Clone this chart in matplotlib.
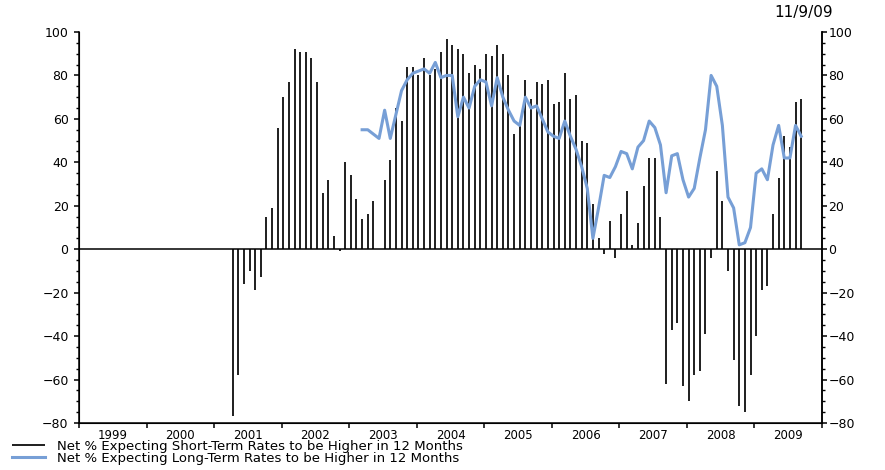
import numpy as np
import matplotlib.pyplot as plt
from matplotlib.ticker import MultipleLocator, FixedLocator, NullFormatter, FixedFormatter

# Données mensuelles, avril 2001 -> septembre 2009
start_year = 2001
start_month = 4

short_term = [-77, -58, -16, -10, -19, -13, 15, 19, 56, 70, 77, 92, 91, 91, 88, 77,
              26, 32, 6, -1, 40, 34, 23, 14, 16, 22, 0, 32, 41, 65, 59, 84, 84, 80,
              88, 80, 83, 91, 97, 94, 92, 90, 81, 85, 83, 90, 89, 94, 90, 80, 53, 57,
              78, 69, 77, 76, 78, 67, 68, 81, 69, 71, 50, 49, 21, 5, -2, 13, -4, 16,
              27, 2, 12, 29, 42, 42, 15, -62, -37, -34, -63, -70, -58, -56, -39, -4,
              36, 22, -10, -51, -72, -75, -58, -40, -19, -17, 16, 33, 52, 47, 68, 69]

# la série longue commence en février 2003 (23 mois après le début)
long_offset = 23
long_term = [55, 55, 53, 51, 64, 51, 62, 73, 78, 81, 82, 83, 81, 86, 79, 80, 80, 61,
             70, 65, 75, 78, 77, 66, 79, 70, 64, 59, 57, 70, 65, 66, 60, 54, 52, 51,
             59, 52, 46, 38, 28, 5, 19, 34, 33, 38, 45, 44, 37, 47, 50, 59, 56, 48,
             26, 43, 44, 32, 24, 28, 42, 55, 80, 75, 57, 24, 19, 2, 3, 10, 35, 37,
             32, 48, 57, 42, 42, 57, 52]

years = list(range(1999, 2010))
year_labels = [str(y) for y in years]
label_short = 'Net % Expecting Short-Term Rates to be Higher in 12 Months'
label_long = 'Net % Expecting Long-Term Rates to be Higher in 12 Months'
date_stamp = '11/9/09'

t = np.array([start_year + (start_month - 1 + i + 0.3) / 12 for i in range(len(short_term))])
t_long = t[long_offset:long_offset + len(long_term)]

fig = plt.figure(figsize=(8.85, 4.7), dpi=100)
ax = fig.add_axes([79 / 885, 1 - 423 / 470, (822 - 79) / 885, (423 - 32) / 470])

bars = ax.vlines(t, 0, short_term, color='#1e1e1e', linewidth=1.4)
line, = ax.plot(t_long, long_term, color='#779fd6', linewidth=2.2)
ax.axhline(0, color='black', linewidth=1.1)

ax.set_xlim(1999, 2010)
ax.set_ylim(-80, 100)

ax.spines['top'].set_visible(False)
for s in ('left', 'right', 'bottom'):
    ax.spines[s].set_linewidth(1.1)

# axe x : graduations aux limites d'années, libellés au milieu
ax.xaxis.set_major_locator(FixedLocator(years + [2010]))
ax.xaxis.set_major_formatter(NullFormatter())
ax.xaxis.set_minor_locator(FixedLocator([y + 0.5 for y in years]))
ax.xaxis.set_minor_formatter(FixedFormatter(year_labels))
ax.tick_params(axis='x', which='major', direction='out', length=3.5, width=1.1)
ax.tick_params(axis='x', which='minor', length=0, pad=4, labelsize=8.5)

# axe y gauche
ax.yaxis.set_major_locator(MultipleLocator(20))
ax.yaxis.set_minor_locator(MultipleLocator(5))
ax.tick_params(axis='y', which='major', direction='out', length=3.5, width=1.1,
               pad=4, labelsize=9)
ax.tick_params(axis='y', which='minor', direction='out', length=2.5, width=1.0)

# axe y droit
ax2 = ax.twinx()
ax2.set_ylim(-80, 100)
ax2.spines['top'].set_visible(False)
ax2.spines['right'].set_linewidth(1.1)
ax2.yaxis.set_major_locator(MultipleLocator(20))
ax2.yaxis.set_minor_locator(MultipleLocator(5))
ax2.tick_params(axis='y', which='major', direction='out', length=3.5, width=1.1,
                pad=1, labelsize=9)
ax2.tick_params(axis='y', which='minor', direction='out', length=2.5, width=1.0)

fig.text(833 / 885, 1 - 13 / 470, date_stamp, ha='right', va='center', fontsize=11)

fig.legend([bars, line], [label_short, label_long], loc='upper left',
           bbox_to_anchor=(12 / 885, 1 - 440 / 470), frameon=False, fontsize=9.5,
           handlelength=2.5, handletextpad=0.9, labelspacing=-0.1, borderpad=0,
           borderaxespad=0)

fig.savefig('out.png', dpi=100)
